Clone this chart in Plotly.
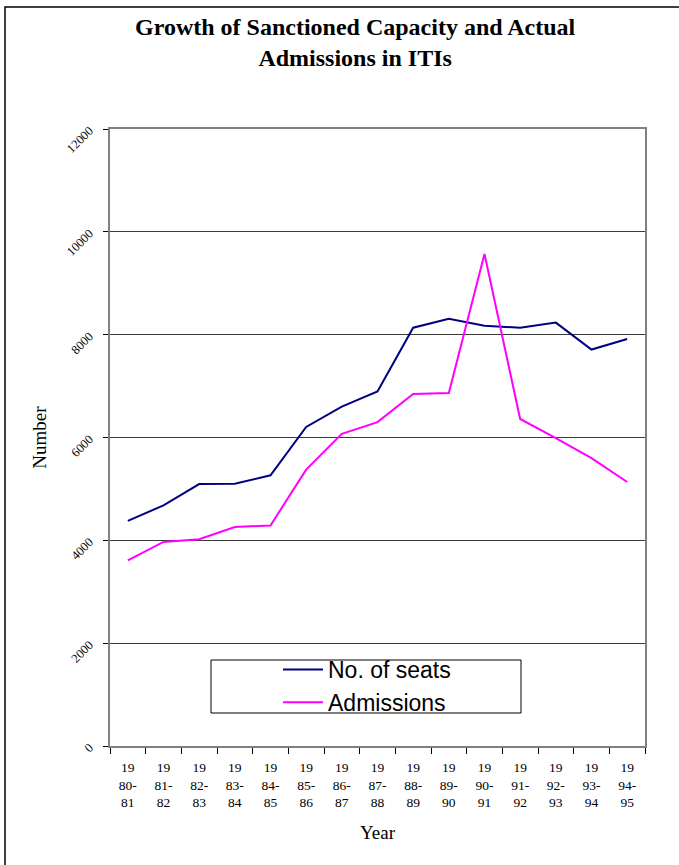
import plotly.graph_objects as go

# Academic years (stacked as century / start- / end)
years = ["19<br>80-<br>81", "19<br>81-<br>82", "19<br>82-<br>83", "19<br>83-<br>84",
         "19<br>84-<br>85", "19<br>85-<br>86", "19<br>86-<br>87", "19<br>87-<br>88",
         "19<br>88-<br>89", "19<br>89-<br>90", "19<br>90-<br>91", "19<br>91-<br>92",
         "19<br>92-<br>93", "19<br>93-<br>94", "19<br>94-<br>95"]

seats = [4380, 4680, 5095, 5100, 5265, 6205, 6600, 6895, 8135, 8310,
         8175, 8135, 8235, 7710, 7915]

admissions = [3610, 3970, 4020, 4260, 4290, 5375, 6070, 6300, 6845, 6865,
              9570, 6360, 5990, 5600, 5135]

y_ticks = [0, 2000, 4000, 6000, 8000, 10000, 12000]

W, H = 679, 865
L, R, T, B = 110, 645, 129, 746  # plot area edges in pixels


def px(x):
    return (x - L) / (R - L)


def py(y):
    return (B - y) / (B - T)


serif = "Liberation Serif, Times New Roman, serif"
sans = "Liberation Sans, Arial, sans-serif"

fig = go.Figure()
fig.add_trace(go.Scatter(x=years, y=seats, mode="lines", name="No. of seats",
                         line=dict(color="#000080", width=2)))
fig.add_trace(go.Scatter(x=years, y=admissions, mode="lines", name="Admissions",
                         line=dict(color="#FF00FF", width=2)))

fig.update_layout(
    width=W, height=H,
    margin=dict(l=L, r=W - R, t=T, b=H - B, pad=0),
    paper_bgcolor="white", plot_bgcolor="white",
    showlegend=True,
    legend=dict(x=px(278), y=py(686), xanchor="left", yanchor="middle",
                bgcolor="rgba(0,0,0,0)", borderwidth=0,
                font=dict(family=sans, size=23, color="black"),
                itemwidth=40, tracegroupgap=0),
)

# Chart title
fig.add_annotation(text="<b>Growth of Sanctioned Capacity and Actual<br>Admissions in ITIs</b>",
                   xref="paper", yref="paper", x=px(355), y=py(12),
                   xanchor="center", yanchor="top", showarrow=False,
                   font=dict(family=serif, size=24, color="black"))

fig.update_xaxes(
    type="category", range=[-0.5, len(years) - 0.5],
    showline=True, linecolor="#808080", linewidth=2, mirror=True,
    ticks="outside", tickson="boundaries", ticklen=6, tickcolor="black",
    showgrid=False,
    tickfont=dict(family=serif, size=13.5, color="black"),
    ticklabelstandoff=8,
    title=dict(text="Year", font=dict(family=serif, size=19, color="black"), standoff=16),
)

fig.update_yaxes(
    range=[0, 12000], tickvals=y_ticks, ticktext=[str(v) for v in y_ticks],
    showline=True, linecolor="#808080", linewidth=2, mirror=True,
    ticks="outside", ticklen=5, tickcolor="black",
    showgrid=True, gridcolor="#3a3a3a", gridwidth=1,
    tickangle=-45, ticklabelstandoff=11,
    tickfont=dict(family=serif, size=12.5, color="black"),
    title=dict(text="Number", font=dict(family=serif, size=19, color="black"), standoff=12),
    zeroline=False,
)

# Legend frame
fig.add_shape(type="rect", xref="paper", yref="paper",
              x0=px(211), x1=px(521), y0=py(713), y1=py(660),
              line=dict(color="black", width=1), fillcolor="white", layer="above")

# Outer chart frame
fig.add_shape(type="rect", xref="paper", yref="paper",
              x0=px(5), x1=px(700), y0=py(880), y1=py(7),
              line=dict(color="black", width=1.5), fillcolor="rgba(0,0,0,0)", layer="below")

fig.write_html("out.html")
